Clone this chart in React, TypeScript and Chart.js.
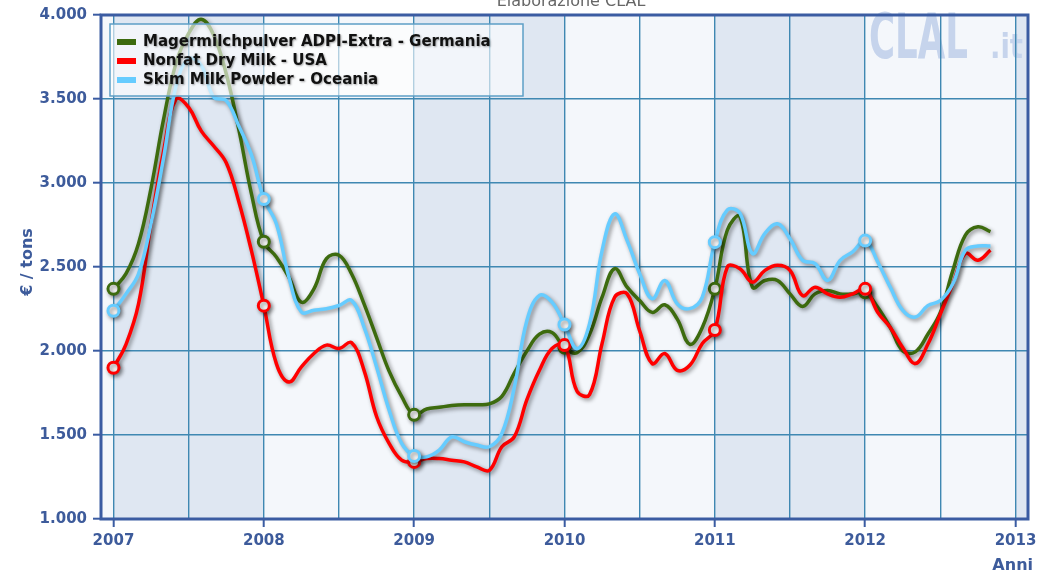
import React, { useEffect, useRef } from 'react';
import { Chart, registerables } from 'chart.js';

Chart.register(...registerables);

// ---- data (monthly, Jan 2007 .. Nov 2012, €/tons) ----
const startYear = 2007;
const seriesNames = [
  'Magermilchpulver ADPI-Extra - Germania',
  'Nonfat Dry Milk - USA',
  'Skim Milk Powder - Oceania',
];
const germany = [
  2370, 2460, 2640, 2970, 3380, 3715, 3890, 3975, 3880, 3650, 3320, 2940,
  2650, 2560, 2440, 2290, 2370, 2550, 2570, 2460, 2280, 2080, 1880, 1730,
  1620, 1655, 1665, 1675, 1680, 1680, 1685, 1730, 1870, 2000, 2100, 2110,
  2020, 1990, 2100, 2320, 2490, 2380, 2300, 2230, 2275, 2190, 2040, 2140,
  2370, 2720, 2800, 2380, 2420, 2420, 2340, 2265, 2340, 2360, 2340, 2340,
  2350, 2260, 2140, 2000, 1995, 2100, 2230, 2480, 2690, 2740, 2710,
];
const usa = [
  1900, 2040, 2280, 2760, 3190, 3500, 3450, 3310, 3220, 3120, 2890, 2600,
  2270, 1925, 1815, 1905, 1985, 2035, 2015, 2050, 1885, 1610, 1450, 1350,
  1340, 1360, 1360, 1350, 1340, 1310, 1290, 1430, 1490, 1710, 1885, 2015,
  2035, 1760, 1740, 2045, 2320, 2340, 2120, 1925, 1985, 1885, 1915, 2045,
  2125, 2500, 2490, 2410, 2480, 2510, 2480, 2330, 2380, 2340, 2320, 2340,
  2370, 2230, 2140, 2020, 1925, 2040, 2220, 2400, 2580, 2540, 2600,
];
const oceania = [
  2240, 2340, 2460, 2760, 3150, 3580, 3740, 3700, 3510, 3490, 3340, 3170,
  2905, 2757, 2440, 2232, 2242, 2252, 2271, 2301, 2142, 1905, 1648, 1450,
  1375, 1370, 1410, 1489, 1460, 1440, 1430, 1509, 1786, 2182, 2331, 2291,
  2158, 2014, 2162, 2598, 2816, 2657, 2460, 2311, 2420, 2281, 2252, 2321,
  2648, 2840, 2820, 2580, 2700, 2757, 2668, 2540, 2520, 2420, 2540, 2590,
  2657, 2530, 2380, 2242, 2202, 2270, 2300, 2400, 2600, 2625, 2625,
];
const xMin = 2006.917;
const xMax = 2013.083;
const yMin = 1000;
const yMax = 4000;
const yStep = 500;
const yAxisTitle = '€ / tons';
const xAxisTitle = 'Anni';
const topTitle = 'Elaborazione CLAL';
const watermarkMain = 'CLAL';
const watermarkSuffix = '.it';

// ---- styles ----
const seriesColors = ['#3d6b0e', '#ff0000', '#66ccff'];
const axisBlue = '#3b5ca2';
const labelBlue = '#3d5b9b';
const gridColor = '#3f88b2';
const FONT = '"DejaVu Sans", Verdana, sans-serif';

const toPoints = (arr: number[]) => arr.map((v, i) => ({ x: startYear + i / 12, y: v }));

const fmtThousands = (v: number) => {
  const th = Math.floor(v / 1000);
  const rest = String(Math.round(v % 1000)).padStart(3, '0');
  return `${th}.${rest}`;
};

const shadowPlugin = {
  id: 'lineShadow',
  beforeDatasetDraw(chart: any) {
    const ctx = chart.ctx;
    ctx.save();
    ctx.shadowColor = 'rgba(0,0,0,0.45)';
    ctx.shadowBlur = 4;
    ctx.shadowOffsetX = 2;
    ctx.shadowOffsetY = 2;
  },
  afterDatasetDraw(chart: any) {
    chart.ctx.restore();
  },
};

const decorPlugin = {
  id: 'decor',
  beforeDraw(chart: any) {
    const { ctx, chartArea: a, scales } = chart;
    const x = scales.x;
    ctx.save();
    ctx.fillStyle = '#ffffff';
    ctx.fillRect(0, 0, chart.width, chart.height);
    for (let yr = Math.floor(x.min); yr <= Math.ceil(x.max); yr++) {
      const x0 = Math.max(a.left, x.getPixelForValue(yr));
      const x1 = Math.min(a.right, x.getPixelForValue(yr + 1));
      if (x1 <= x0) continue;
      ctx.fillStyle = (yr - startYear) % 2 === 0 ? '#dfe7f2' : '#f4f7fb';
      ctx.fillRect(x0, a.top, x1 - x0, a.bottom - a.top);
    }
    // watermark
    ctx.fillStyle = '#c6d4ec';
    ctx.textBaseline = 'alphabetic';
    ctx.textAlign = 'left';
    ctx.font = `bold 62px ${FONT}`;
    const w = ctx.measureText(watermarkMain).width;
    ctx.save();
    ctx.translate(869, 58);
    ctx.scale(99 / w, 1);
    ctx.fillText(watermarkMain, 0, 0);
    ctx.restore();
    ctx.font = `bold 34px ${FONT}`;
    const w2 = ctx.measureText(watermarkSuffix).width;
    ctx.save();
    ctx.translate(990, 58);
    ctx.scale(33 / w2, 1);
    ctx.fillText(watermarkSuffix, 0, 0);
    ctx.restore();
    ctx.restore();
  },
  afterDatasetsDraw(chart: any) {
    const { ctx, chartArea: a } = chart;
    ctx.save();
    // legend box
    const lx = 110, ly = 24, lw = 413, lh = 72;
    ctx.fillStyle = 'rgba(255,255,255,0.6)';
    ctx.fillRect(lx, ly, lw, lh);
    ctx.strokeStyle = '#5d9fc6';
    ctx.lineWidth = 1.5;
    ctx.strokeRect(lx, ly, lw, lh);
    ctx.font = `bold 15px ${FONT}`;
    ctx.textBaseline = 'middle';
    ctx.textAlign = 'left';
    seriesNames.forEach((name, i) => {
      const cy = 42 + i * 19;
      ctx.fillStyle = seriesColors[i];
      ctx.fillRect(117, cy - 3, 19, 6);
      ctx.save();
      ctx.shadowColor = 'rgba(0,0,0,0.35)';
      ctx.shadowBlur = 2;
      ctx.shadowOffsetX = 1;
      ctx.shadowOffsetY = 1;
      ctx.fillStyle = '#111111';
      ctx.fillText(name, 143, cy);
      ctx.restore();
    });
    // frame
    ctx.strokeStyle = axisBlue;
    ctx.lineWidth = 3;
    ctx.strokeRect(a.left, a.top, a.right - a.left, a.bottom - a.top);
    ctx.restore();
  },
  afterDraw(chart: any) {
    const { ctx } = chart;
    ctx.save();
    // top title (partly cut off)
    ctx.fillStyle = '#666666';
    ctx.font = `16px ${FONT}`;
    ctx.textAlign = 'center';
    ctx.textBaseline = 'alphabetic';
    ctx.fillText(topTitle, 571, 6);
    // y axis title
    ctx.fillStyle = labelBlue;
    ctx.font = `bold 16px ${FONT}`;
    ctx.save();
    ctx.translate(28, 262);
    ctx.rotate(-Math.PI / 2);
    ctx.textAlign = 'center';
    ctx.textBaseline = 'middle';
    ctx.fillText(yAxisTitle, 0, 0);
    ctx.restore();
    // x axis title
    ctx.textAlign = 'right';
    ctx.textBaseline = 'middle';
    ctx.fillText(xAxisTitle, 1033, 566);
    ctx.restore();
  },
};

export default function App() {
  const canvasRef = useRef<HTMLCanvasElement | null>(null);

  useEffect(() => {
    const canvas = canvasRef.current;
    if (!canvas) return;
    const raw = [germany, usa, oceania];
    const chart = new Chart(canvas, {
      type: 'line',
      data: {
        datasets: raw.map((arr, i) => ({
          label: seriesNames[i],
          data: toPoints(arr),
          borderColor: seriesColors[i],
          backgroundColor: seriesColors[i],
          borderWidth: 3.5,
          tension: 0.4,
          fill: false,
          order: 3 - i,
          pointRadius: (c: any) => (c.dataIndex % 12 === 0 ? 5.5 : 0),
          pointHoverRadius: (c: any) => (c.dataIndex % 12 === 0 ? 5.5 : 0),
          pointBackgroundColor: '#ffffff',
          pointBorderColor: seriesColors[i],
          pointBorderWidth: 3,
        })),
      },
      options: {
        animation: false,
        responsive: false,
        maintainAspectRatio: false,
        events: [],
        layout: { padding: { top: 14, right: 17, left: 0, bottom: 0 } },
        plugins: {
          legend: { display: false },
          tooltip: { enabled: false },
          title: { display: false },
        },
        scales: {
          x: {
            type: 'linear',
            min: xMin,
            max: xMax,
            border: { display: false },
            grid: {
              color: gridColor,
              lineWidth: 1.4,
              tickLength: 8,
              tickWidth: 2,
              tickColor: (c: any) =>
                c.tick && Number.isInteger(c.tick.value) ? axisBlue : 'rgba(0,0,0,0)',
            },
            ticks: {
              stepSize: 0.5,
              includeBounds: false,
              autoSkip: false,
              maxRotation: 0,
              padding: 5,
              color: labelBlue,
              font: { family: FONT, size: 15, weight: 'bold' },
              callback: (v: any) => (Number.isInteger(v) ? String(v) : ''),
            },
            afterFit: (s: any) => {
              s.height = 57;
            },
          },
          y: {
            type: 'linear',
            min: yMin,
            max: yMax,
            border: { display: false },
            grid: {
              color: gridColor,
              lineWidth: 1.4,
              tickLength: 8,
              tickWidth: 2,
              tickColor: axisBlue,
            },
            ticks: {
              stepSize: yStep,
              padding: 6,
              color: labelBlue,
              font: { family: FONT, size: 15, weight: 'bold' },
              callback: (v: any) => fmtThousands(Number(v)),
            },
            afterFit: (s: any) => {
              s.width = 101;
            },
          },
        },
      } as any,
      plugins: [decorPlugin, shadowPlugin],
    });
    return () => chart.destroy();
  }, []);

  return (
    <div style={{ position: 'fixed', left: 0, top: 0, width: 1045, height: 576, background: '#fff' }}>
      <canvas ref={canvasRef} width={1045} height={576} style={{ width: 1045, height: 576, display: 'block' }} />
    </div>
  );
}
